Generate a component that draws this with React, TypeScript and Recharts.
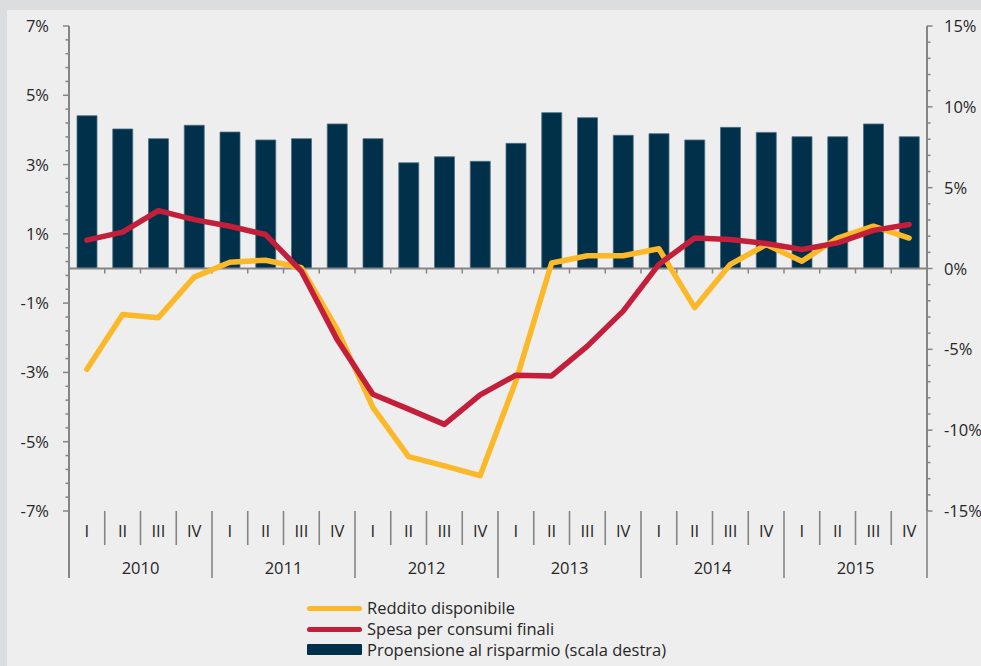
import React from "react";
import { ComposedChart, Bar, Line, XAxis, YAxis, ReferenceLine } from "recharts";

const years = ["2010", "2011", "2012", "2013", "2014", "2015"];
const quarters = ["I", "II", "III", "IV"];

// Reddito disponibile (scala sinistra, %)
const reddito = [
  -2.91, -1.33, -1.42, -0.25,
  0.18, 0.24, 0.02, -1.76,
  -4.01, -5.43, -5.7, -5.98,
  -3.25, 0.16, 0.37, 0.37,
  0.57, -1.13, 0.12, 0.69,
  0.21, 0.88, 1.22, 0.88,
];

// Spesa per consumi finali (scala sinistra, %)
const spesa = [
  0.82, 1.05, 1.67, 1.41,
  1.22, 0.98, -0.08, -2.05,
  -3.63, -4.06, -4.5, -3.65,
  -3.08, -3.1, -2.24, -1.23,
  0.12, 0.88, 0.84, 0.72,
  0.55, 0.74, 1.1, 1.27,
];

// Propensione al risparmio (scala destra, %)
const risparmio = [
  9.45, 8.63, 8.03, 8.86,
  8.44, 7.95, 8.03, 8.94,
  8.03, 6.54, 6.91, 6.63,
  7.74, 9.64, 9.33, 8.24,
  8.34, 7.95, 8.73, 8.42,
  8.15, 8.15, 8.94, 8.15,
];

const leftMajor = [-7, -5, -3, -1, 1, 3, 5, 7];
const leftMinorStep = 0.4;
const rightMajor = [-15, -10, -5, 0, 5, 10, 15];
const rightMinorStep = 1;

const YELLOW = "#fbb829";
const RED = "#c41f3a";
const NAVY = "#00304a";
const GRAY = "#858585";
const TEXT = "#262626";
const FONT = "'Open Sans', sans-serif";

const W = 981;
const H = 600;
const LEFT_W = 60;
const RIGHT_W = 54;
const MARGIN = { top: 26, right: 0, bottom: 9, left: 9 };
const PLOT_W = W - MARGIN.left - MARGIN.right - LEFT_W - RIGHT_W;

const data = years.flatMap((yr, yi) =>
  quarters.map((q, qi) => {
    const i = yi * 4 + qi;
    return { key: `${yr}-${q}`, year: yr, q, reddito: reddito[i], spesa: spesa[i], risparmio: risparmio[i] };
  })
);
const BAND = PLOT_W / data.length;

const stepTicks = (lo: number, hi: number, step: number) => {
  const n = Math.round((hi - lo) / step);
  return Array.from({ length: n + 1 }, (_, k) => Math.round((lo + k * step) * 100) / 100);
};
const leftTicks = stepTicks(-7, 7, leftMinorStep);
const rightTicks = stepTicks(-15, 15, rightMinorStep);

const LeftTick = (props: any) => {
  const { x, y, payload } = props;
  const major = leftMajor.some((m) => Math.abs(m - payload.value) < 1e-6);
  return (
    <g>
      <line x1={x - (major ? 6 : 3.5)} x2={x} y1={y} y2={y} stroke={GRAY} strokeWidth={1.5} />
      {major && (
        <text x={x - 20} y={y} dy={6} textAnchor="end" fontSize={16.5} fill={TEXT} fontFamily={FONT}>
          {`${payload.value}%`}
        </text>
      )}
    </g>
  );
};

const RightTick = (props: any) => {
  const { x, y, payload } = props;
  const major = rightMajor.some((m) => Math.abs(m - payload.value) < 1e-6);
  return (
    <g>
      <line x1={x} x2={x + (major ? 5.5 : 3.5)} y1={y} y2={y} stroke={GRAY} strokeWidth={1.5} />
      {major && (
        <text x={x + 17} y={y} dy={6} textAnchor="start" fontSize={16.5} fill={TEXT} fontFamily={FONT}>
          {`${payload.value}%`}
        </text>
      )}
    </g>
  );
};

const QuarterTick = (props: any) => {
  const { x, y, index } = props;
  const d = data[index];
  if (!d) return null;
  const isLast = d.q === "IV";
  const right = x + BAND / 2;
  return (
    <g>
      <text x={x} y={y + 26} textAnchor="middle" fontSize={16.5} fill={TEXT} fontFamily={FONT}>
        {d.q}
      </text>
      <line x1={right} x2={right} y1={y} y2={y + (isLast ? 67 : 34)} stroke={GRAY} strokeWidth={1.6} />
      {index === 0 && (
        <line x1={x - BAND / 2} x2={x - BAND / 2} y1={y} y2={y + 67} stroke={GRAY} strokeWidth={2} />
      )}
      {d.q === "II" && (
        <text x={right} y={y + 63} textAnchor="middle" fontSize={16.5} fill={TEXT} fontFamily={FONT}>
          {d.year}
        </text>
      )}
    </g>
  );
};

const ZeroLine = (props: any) => {
  const { x1, x2, y1 } = props;
  const n = data.length;
  const step = (x2 - x1) / n;
  return (
    <g>
      <line x1={x1} x2={x2} y1={y1} y2={y1} stroke={GRAY} strokeWidth={2} />
      {Array.from({ length: n - 1 }, (_, k) => (
        <line key={k} x1={x1 + step * (k + 1)} x2={x1 + step * (k + 1)} y1={y1} y2={y1 + 5} stroke={GRAY} strokeWidth={1.5} />
      ))}
    </g>
  );
};

const legendItems = [
  { label: "Reddito disponibile", color: YELLOW, kind: "line" },
  { label: "Spesa per consumi finali", color: RED, kind: "line" },
  { label: "Propensione al risparmio (scala destra)", color: NAVY, kind: "bar" },
];

export default function App() {
  return (
    <div style={{ position: "fixed", left: 0, top: 0, width: W, height: 666, background: "#dcdddf", overflow: "hidden" }}>
      <div style={{ position: "absolute", left: 7, top: 10, right: 0, bottom: 0, background: "#eeeeee" }} />
      <div style={{ position: "absolute", left: 0, top: 0 }}>
        <ComposedChart width={W} height={H} data={data} margin={MARGIN}>
          <XAxis
            dataKey="key"
            xAxisId="x"
            axisLine={false}
            tickLine={false}
            tickSize={0}
            tickMargin={0}
            height={80}
            interval={0}
            tick={<QuarterTick />}
          />
          <YAxis
            yAxisId="left"
            orientation="left"
            width={LEFT_W}
            domain={[-7, 7]}
            ticks={leftTicks}
            interval={0}
            tickSize={0}
            tickMargin={0}
            tickLine={false}
            axisLine={{ stroke: GRAY, strokeWidth: 2 }}
            tick={<LeftTick />}
            allowDataOverflow
          />
          <YAxis
            yAxisId="right"
            orientation="right"
            width={RIGHT_W}
            domain={[-15, 15]}
            ticks={rightTicks}
            interval={0}
            tickSize={0}
            tickMargin={0}
            tickLine={false}
            axisLine={{ stroke: GRAY, strokeWidth: 2 }}
            tick={<RightTick />}
            allowDataOverflow
          />
          <Bar
            dataKey="risparmio"
            xAxisId="x"
            yAxisId="right"
            fill={NAVY}
            stroke="#4f6f84"
            strokeWidth={0.8}
            barSize={20}
            isAnimationActive={false}
          />
          <ReferenceLine xAxisId="x" yAxisId="left" y={0} shape={<ZeroLine />} />
          <Line
            dataKey="reddito"
            xAxisId="x"
            yAxisId="left"
            stroke={YELLOW}
            strokeWidth={5.5}
            strokeLinecap="round"
            strokeLinejoin="round"
            dot={false}
            activeDot={false}
            type="linear"
            isAnimationActive={false}
          />
          <Line
            dataKey="spesa"
            xAxisId="x"
            yAxisId="left"
            stroke={RED}
            strokeWidth={5.5}
            strokeLinecap="round"
            strokeLinejoin="round"
            dot={false}
            activeDot={false}
            type="linear"
            isAnimationActive={false}
          />
        </ComposedChart>
      </div>
      <div style={{ position: "absolute", left: 307, top: 598, fontFamily: FONT, fontSize: 16.5, color: TEXT }}>
        {legendItems.map((it) => (
          <div key={it.label} style={{ display: "flex", alignItems: "center", height: 20.7 }}>
            <div
              style={{
                width: 55,
                height: it.kind === "bar" ? 11 : 5,
                borderRadius: it.kind === "bar" ? 1 : 3,
                background: it.color,
                marginRight: 5,
              }}
            />
            <span style={{ lineHeight: "20px", whiteSpace: "nowrap" }}>{it.label}</span>
          </div>
        ))}
      </div>
    </div>
  );
}
